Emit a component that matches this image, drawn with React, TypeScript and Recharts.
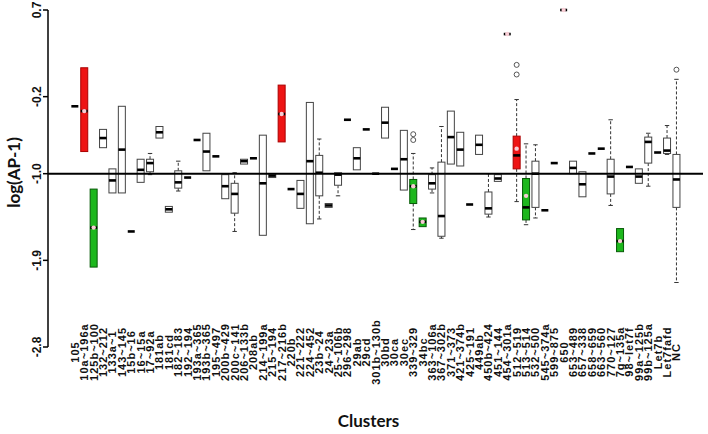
import { ComposedChart, Bar, XAxis, YAxis, ReferenceLine } from 'recharts'

// y axis of the original: log(AP-1)
const Y_MIN = -2.8
const Y_MAX = 0.7
const yTicks = [0.7, -0.2, -1.0, -1.9, -2.8]
const baseline = -1.0

const clusters = [
  '105', '10a~196a', '125b~100', '132~212', '133a~1', '143~145', '15b~16', '16~15a', '17~92a', '181ab',
  '181cd', '182~183', '192~194', '193a~365', '193b~365', '195~497', '200b~429', '200c~141', '206~133b', '208ab',
  '214~199a', '215~194', '217~216b', '220b', '221~222', '224~452', '23b~24', '24~23a', '25~106b', '296~298',
  '29ab', '29cd', '301b~130b', '30bd', '30ca', '30ec', '339~329', '34bc', '363~106a', '367~302b',
  '371~373', '421~374b', '425~191', '449ab', '450b~424', '451~144', '454~301a', '512~519', '513~514', '532~500',
  '545~374a', '599~875', '650', '653~489', '657~338', '658~659', '663~560', '770~127', '7g~135a', '98~let7f',
  '99a~125b', '99b~125a', 'Let7b', 'Let7fafd', 'NC',
]

const medians = [
  -0.3, -0.35, -1.56, -0.63, -1.07, -0.75, -1.6, -0.96, -0.89, -0.57,
  -1.37, -1.09, -1.04, -0.65, -0.77, -0.82, -1.13, -1.21, -0.87, -0.84,
  -1.1, -1.02, -0.38, -1.16, -1.21, -0.87, -0.99, -1.33, -1.01, -0.44,
  -0.84, -0.54, -1.0, -0.47, -0.95, -0.85, -1.13, -1.5, -1.1, -1.44,
  -0.62, -0.75, -1.32, -0.7, -1.36, -1.05, 0.45, -0.81, -1.35, -1.0,
  -1.38, -0.89, 0.7, -0.94, -1.11, -0.79, -0.74, -1.03, -1.7, -0.93,
  -1.03, -0.67, -0.78, -0.76, -1.06,
]

const upperQuartiles = [
  null, 0.1, -1.16, -0.54, -0.95, -0.3, null, -0.85, -0.85, -0.51,
  -1.34, -0.97, null, null, -0.58, null, -1.01, -1.1, -0.85, null,
  -0.6, -1.0, -0.08, null, -1.07, -0.26, -0.81, -1.31, -0.99, null,
  -0.73, null, null, -0.31, null, -0.55, -1.06, -1.46, -1.01, -0.88,
  -0.35, -0.57, null, -0.6, -1.19, -1.01, null, -0.61, -1.05, -0.87,
  null, null, null, -0.87, -0.98, null, null, -0.85, -1.57, null,
  -0.95, -0.62, null, -0.63, -0.8,
]

const lowerQuartiles = [
  null, -0.77, -1.97, -0.73, -1.2, -1.2, null, -1.09, -0.98, -0.63,
  -1.4, -1.15, null, null, -0.97, null, -1.26, -1.41, -0.9, null,
  -1.64, -1.04, -0.67, null, -1.36, -1.52, -1.23, -1.35, -1.12, null,
  -0.96, null, null, -0.63, null, -1.17, -1.31, -1.55, -1.16, -1.65,
  -0.9, -0.92, null, -0.8, -1.42, -1.08, null, -0.95, -1.48, -1.35,
  null, null, null, -1.0, -1.24, null, null, -1.21, -1.81, null,
  -1.1, -0.89, null, -0.79, -1.35,
]

// [upper whisker, lower whisker]
const whiskers: Record<string, [number | null, number | null]> = {
  '17~92a': [-0.79, -1.01],
  '182~183': [-0.87, -1.18],
  '200c~141': [-0.99, -1.6],
  '23b~24': [-0.64, -1.47],
  '25~106b': [null, -1.23],
  '339~329': [-0.79, -1.58],
  '363~106a': [-0.94, -1.2],
  '367~302b': [-0.51, -1.67],
  '450b~424': [-1.0, -1.45],
  '512~519': [-0.23, -1.29],
  '513~514': [-0.69, -1.53],
  '532~500': [-0.7, -1.46],
  '770~127': [-0.44, -1.33],
  '99b~125a': [-0.58, -1.13],
  Let7fafd: [-0.5, -0.8],
  NC: [-0.02, -2.13],
}

const meanValues: Record<string, number> = {
  '10a~196a': -0.35,
  '125b~100': -1.56,
  '217~216b': -0.38,
  '339~329': -1.13,
  '34bc': -1.5,
  '454~301a': 0.45,
  '512~519': -0.74,
  '513~514': -1.23,
  '650': 0.7,
  '7g~135a': -1.7,
}

const outlierPoints: Record<string, number[]> = {
  '339~329': [-0.59, -0.65],
  '512~519': [0.13, 0.03],
  NC: [0.08],
}

const upRegulated = ['10a~196a', '217~216b', '454~301a', '512~519', '650']
const downRegulated = ['125b~100', '339~329', '34bc', '513~514', '7g~135a']

const RED = '#ee1414'
const GREEN = '#1db71d'
const MEAN_DOT = '#f7ccd4'
const TICK_FONT = '"Liberation Sans", Arial, sans-serif'
const TITLE_FONT = 'Lato, "Open Sans", sans-serif'

const data = clusters.map((name, i) => ({
  name,
  frame: [Y_MIN, Y_MAX],
  median: medians[i],
  q1: lowerQuartiles[i],
  q3: upperQuartiles[i],
  whisker: whiskers[name] ?? [null, null],
  mean: meanValues[name] ?? null,
  outliers: outlierPoints[name] ?? [],
  status: upRegulated.includes(name) ? 'up' : downRegulated.includes(name) ? 'down' : 'none',
}))

// each bar spans the whole y domain, so values map linearly inside it
function BoxShape(props: any) {
  const { x, y, width, height, payload } = props
  if (payload == null || width == null || height == null) return null
  const py = (v: number) => y + ((Y_MAX - v) / (Y_MAX - Y_MIN)) * height
  const cx = x + width / 2
  const cap = 2.2
  const fill = payload.status === 'up' ? RED : payload.status === 'down' ? GREEN : '#fff'
  const stroke = payload.status === 'up' ? '#a00' : payload.status === 'down' ? '#075a07' : '#444'
  const hasBox = payload.q1 != null && payload.q3 != null
  const top = hasBox ? py(payload.q3) : py(payload.median)
  const bottom = hasBox ? py(payload.q1) : py(payload.median)
  const [wHi, wLo] = payload.whisker
  return (
    <g>
      {wHi != null && (
        <g stroke="#333" strokeWidth={1}>
          <line x1={cx} x2={cx} y1={top} y2={py(wHi)} strokeDasharray="3 2" />
          <line x1={cx - cap} x2={cx + cap} y1={py(wHi)} y2={py(wHi)} />
        </g>
      )}
      {wLo != null && (
        <g stroke="#333" strokeWidth={1}>
          <line x1={cx} x2={cx} y1={bottom} y2={py(wLo)} strokeDasharray="3 2" />
          <line x1={cx - cap} x2={cx + cap} y1={py(wLo)} y2={py(wLo)} />
        </g>
      )}
      {hasBox && (
        <rect
          x={x + 0.5}
          y={top}
          width={width - 1}
          height={Math.max(bottom - top, 0.5)}
          fill={fill}
          stroke={stroke}
          strokeWidth={1}
        />
      )}
      <line
        x1={x + 0.5}
        x2={x + width - 0.5}
        y1={py(payload.median)}
        y2={py(payload.median)}
        stroke="#000"
        strokeWidth={2.6}
      />
      {payload.mean != null && <circle cx={cx} cy={py(payload.mean)} r={2.2} fill={MEAN_DOT} />}
      {payload.outliers.map((o: number, k: number) => (
        <circle key={k} cx={cx} cy={py(o)} r={2.5} fill="none" stroke="#444" strokeWidth={0.9} />
      ))}
    </g>
  )
}

function ClusterTick({ x, y, payload }: any) {
  const cy = y + 3
  return (
    <text
      x={x}
      y={cy}
      transform={`rotate(-90 ${x} ${cy})`}
      textAnchor="middle"
      dominantBaseline="central"
      fontFamily={TICK_FONT}
      fontSize={11}
      fontWeight="bold"
      letterSpacing={1}
      fill="#111"
    >
      {payload.value}
    </text>
  )
}

function ValueTick({ x, y, payload }: any) {
  const cx = x - 4
  return (
    <text
      x={cx}
      y={y}
      transform={`rotate(-90 ${cx} ${y})`}
      textAnchor="middle"
      dominantBaseline="central"
      fontFamily={TICK_FONT}
      fontSize={12}
      fontWeight="bold"
      fill="#111"
    >
      {Number(payload.value).toFixed(1)}
    </text>
  )
}

export default function App() {
  return (
    <div style={{ position: 'absolute', left: 0, top: 0, background: '#fff' }}>
      <ComposedChart
        width={708}
        height={434}
        data={data}
        margin={{ top: 10, right: 5, bottom: 0, left: 0 }}
        barCategoryGap="9%"
      >
        <XAxis
          dataKey="name"
          type="category"
          interval={0}
          tickLine={false}
          axisLine={false}
          tickSize={0}
          height={87}
          padding={{ left: 22, right: 22 }}
          tick={<ClusterTick />}
          label={{
            content: (p: any) => {
              const vb = p.viewBox
              return (
                <text
                  x={vb.x + vb.width / 2 - 7}
                  y={vb.y + vb.height - 7}
                  textAnchor="middle"
                  fontFamily={TITLE_FONT}
                  fontSize={17}
                  fontWeight="bold"
                  fill="#111"
                >
                  Clusters
                </text>
              )
            },
          }}
        />
        <YAxis
          type="number"
          domain={[Y_MIN, Y_MAX]}
          ticks={yTicks}
          width={48}
          tickSize={5}
          stroke="#000"
          axisLine={{ stroke: '#000', strokeWidth: 1.5 }}
          tickLine={{ stroke: '#000', strokeWidth: 1.5 }}
          tick={<ValueTick />}
          label={{
            content: (p: any) => {
              const vb = p.viewBox
              const lx = 13
              const ly = vb.y + vb.height / 2 - 6
              return (
                <text
                  x={lx}
                  y={ly}
                  transform={`rotate(-90 ${lx} ${ly})`}
                  textAnchor="middle"
                  dominantBaseline="central"
                  fontFamily={TITLE_FONT}
                  fontSize={17}
                  fontWeight="bold"
                  fill="#111"
                >
                  log(AP-1)
                </text>
              )
            },
          }}
        />
        <Bar dataKey="frame" shape={<BoxShape />} isAnimationActive={false} />
        <ReferenceLine y={baseline} stroke="#000" strokeWidth={2} />
      </ComposedChart>
    </div>
  )
}
